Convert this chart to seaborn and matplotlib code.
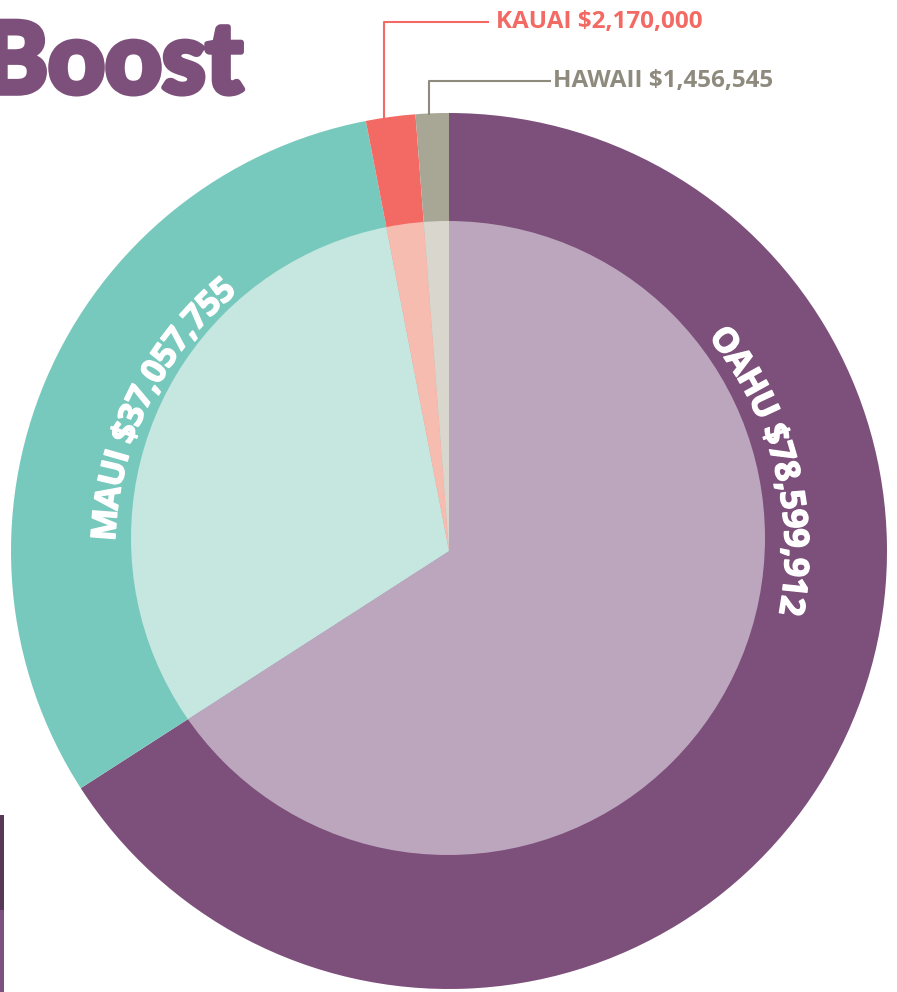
import numpy as np
import matplotlib
matplotlib.use("Agg")
import matplotlib.pyplot as plt
import seaborn as sns
from matplotlib.patches import Circle, Rectangle
from matplotlib.font_manager import FontProperties
import matplotlib.patheffects as pe

# ---- data ----
islands = ["OAHU", "MAUI", "KAUAI", "HAWAII"]
funding = [78599912, 37057755, 2170000, 1456545]
outer_colors = ["#7D4F7B", "#78C9BD", "#F26A63", "#A8A695"]
inner_colors = ["#BCA6BD", "#C6E6E0", "#F7BCB0", "#D9D6CE"]
label_colors = ["#FFFFFF", "#FFFFFF", "#F26A63", "#8E8B7E"]
title = "Boost"

sns.set_theme(style="white")
plt.rcParams["font.family"] = ["Open Sans", "DejaVu Sans"]

W, H = 897, 992
fig = plt.figure(figsize=(W / 100, H / 100), dpi=100)
ax = fig.add_axes([0, 0, 1, 1])

cx, cy = 449, H - 551
R = 438

outer, _ = ax.pie(funding, colors=outer_colors, startangle=90, counterclock=False,
                  radius=R, center=(cx, cy), wedgeprops=dict(linewidth=0))
inner, _ = ax.pie(funding, colors=inner_colors, startangle=90, counterclock=False,
                  radius=R - 10, center=(cx, cy), wedgeprops=dict(linewidth=0))
clip = Circle((448, H - 538), 317, transform=ax.transData)
for w in inner:
    w.set_clip_on(True)
    w.set_clip_path(clip)

ax.set_xlim(0, W)
ax.set_ylim(0, H)
ax.set_aspect("auto")
ax.axis("off")

renderer = fig.canvas.get_renderer()


def arc_text(s, theta_mid, r_mid, size, color):
    fp = FontProperties(family="Open Sans", weight="bold", size=size)

    def wd(t):
        return renderer.get_text_width_height_descent(t, fp, ismath=False)[0]

    total = wd(s)
    cap = renderer.get_text_width_height_descent("H", fp, ismath=False)[1]
    rb = r_mid - cap / 2
    for i, c in enumerate(s):
        if c == " ":
            continue
        cpos = wd(s[: i + 1]) - wd(c) / 2
        ang = theta_mid + np.degrees((total / 2 - cpos) / r_mid)
        x = cx + rb * np.cos(np.radians(ang))
        y = cy + rb * np.sin(np.radians(ang))
        ax.text(x, y, c, rotation=ang - 90, rotation_mode="anchor", ha="center",
                va="baseline", fontproperties=fp, color=color,
                path_effects=[pe.withStroke(linewidth=1.0, foreground=color)])


def fmt(i):
    return f"{islands[i]} ${funding[i]:,}"


# curved labels inside the ring
arc_text(fmt(0), 14.4, 348, 24.5, label_colors[0])
arc_text(fmt(1), 153.8, 346, 24.5, label_colors[1])


# callout labels for the small slices
def callout(i, x_line, y_top, x_end, x_text):
    y_edge = cy + np.sqrt(R ** 2 - (x_line - cx) ** 2)
    ax.plot([x_line, x_line, x_end], [y_edge - 2, H - y_top, H - y_top],
            color=label_colors[i], lw=1.5, solid_capstyle="butt")
    ax.text(x_text, H - y_top, fmt(i), ha="left", va="center", fontsize=17.5,
            fontweight="bold", color=label_colors[i], family="Open Sans")


callout(2, 384, 22, 489, 496)
callout(3, 429, 81, 551, 553)

# title fragment
ax.text(243, H - 93, title, ha="right", va="baseline", fontsize=71,
        family=["Lato", "Open Sans"], fontweight="black", color="#7D4F7B",
        path_effects=[pe.withStroke(linewidth=4, foreground="#7D4F7B")])

# left edge decoration bar
ax.add_patch(Rectangle((0, H - 910), 4, 95, color="#573856", lw=0))
ax.add_patch(Rectangle((0, 0), 4, H - 910, color="#7D5080", lw=0))

fig.savefig("out.png", dpi=100)
